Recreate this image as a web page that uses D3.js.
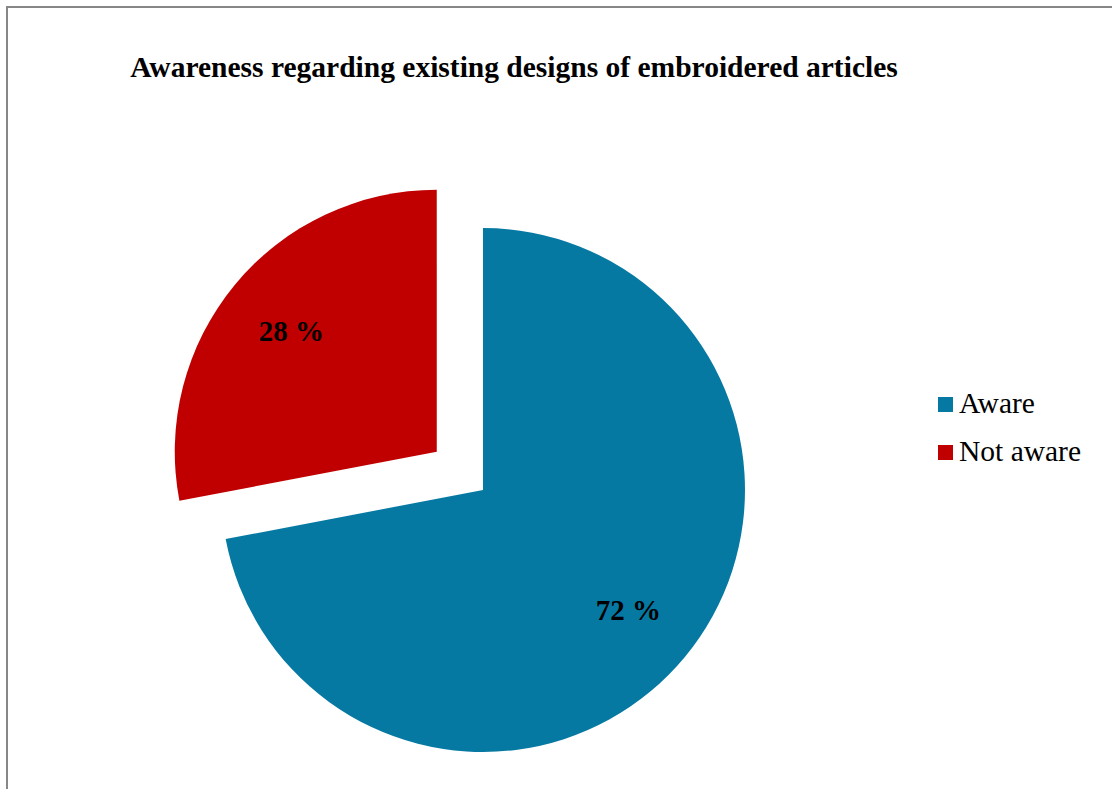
<!DOCTYPE html>
<html>
<head>
<meta charset="utf-8">
<script src="https://cdn.jsdelivr.net/npm/d3@7"></script>
<style>
  body { margin: 0; background: #fff; }
  svg { display: block; }
</style>
</head>
<body>
<svg id="chart"></svg>
<script>
var width = 1112,
    height = 789;

// data
var categories = ["Aware", "Not aware"];
var values = [72, 28];
var labels = ["72 %", "28 %"];
var colors = ["#0679a3", "#c00000"];
var explode = [0, 60];

var svg = d3.select("#chart")
    .attr("width", width)
    .attr("height", height);

// chart frame (runs off the right and bottom of the page)
svg.append("rect")
    .attr("x", 7).attr("y", 7)
    .attr("width", 1120).attr("height", 800)
    .attr("fill", "none")
    .attr("stroke", "#878787")
    .attr("stroke-width", 2);

svg.append("text")
    .attr("x", 514).attr("y", 77)
    .attr("text-anchor", "middle")
    .style("font-family", "'Liberation Serif', 'Times New Roman', serif")
    .style("font-weight", "bold")
    .style("font-size", "29.5px")
    .text("Awareness regarding existing designs of embroidered articles");

var cx = 483, cy = 490, radius = 262;

var pie = d3.pie().sort(null).value(function(d) { return d; });
var arc = d3.arc().innerRadius(0).outerRadius(radius);
var labelArc = d3.arc().innerRadius(radius * 0.72).outerRadius(radius * 0.72);

var arcs = pie(values);

var g = svg.append("g")
    .attr("transform", "translate(" + cx + "," + cy + ")");

var slices = g.selectAll("g.slice")
    .data(arcs)
    .enter().append("g")
    .attr("class", "slice")
    .attr("transform", function(d, i) {
        var a = (d.startAngle + d.endAngle) / 2;
        return "translate(" + (Math.sin(a) * explode[i]) + "," + (-Math.cos(a) * explode[i]) + ")";
    });

slices.append("path")
    .attr("d", arc)
    .attr("fill", function(d, i) { return colors[i]; });

slices.append("text")
    .attr("transform", function(d) { return "translate(" + labelArc.centroid(d) + ")"; })
    .attr("dy", "0.33em")
    .attr("text-anchor", "middle")
    .style("font-family", "'Liberation Serif', 'Times New Roman', serif")
    .style("font-weight", "bold")
    .style("font-size", "29px")
    .text(function(d, i) { return labels[i]; });

// legend
var legend = svg.append("g")
    .attr("transform", "translate(938,397)");

var item = legend.selectAll("g")
    .data(categories)
    .enter().append("g")
    .attr("transform", function(d, i) { return "translate(0," + (i * 48) + ")"; });

item.append("rect")
    .attr("width", 15).attr("height", 15)
    .attr("fill", function(d, i) { return colors[i]; });

item.append("text")
    .attr("x", 21).attr("y", 16)
    .style("font-family", "'Liberation Serif', 'Times New Roman', serif")
    .style("font-size", "29.5px")
    .text(function(d) { return d; });
</script>
</body>
</html>
